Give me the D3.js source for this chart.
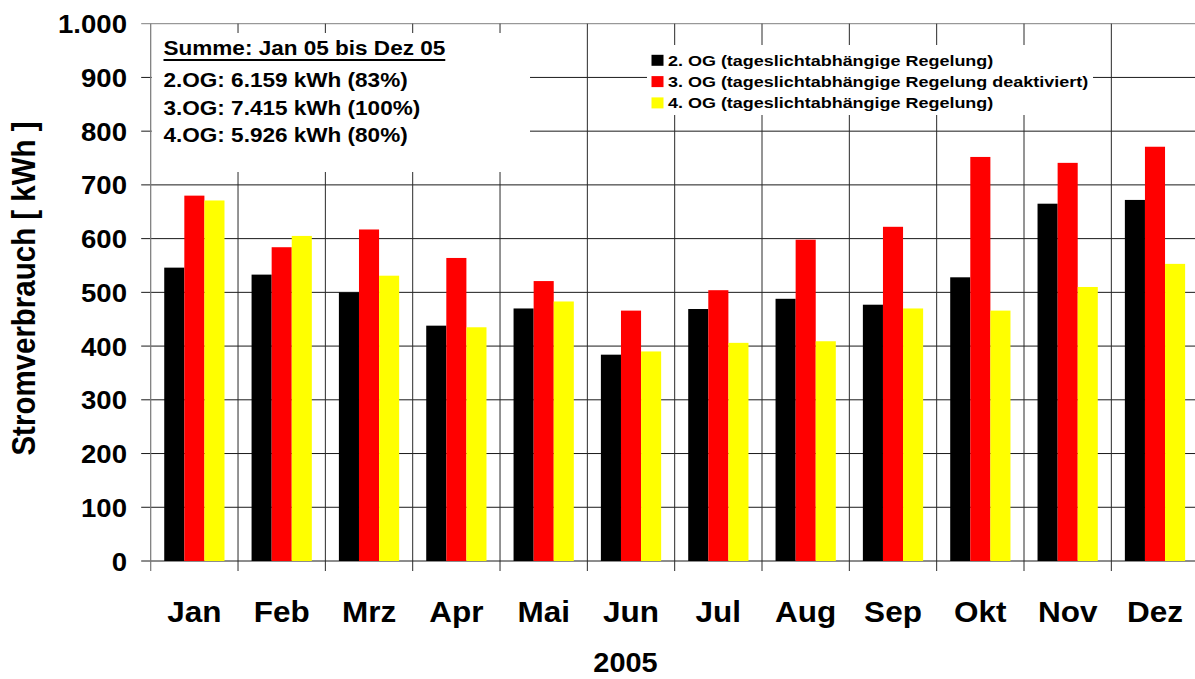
<!DOCTYPE html>
<html>
<head>
<meta charset="utf-8">
<script src="https://cdn.jsdelivr.net/npm/d3@7"></script>
<style>
  body { margin: 0; background: #fff; }
  text { font-family: "Liberation Sans", Arial, sans-serif; font-weight: bold; fill: #000; }
</style>
</head>
<body>
<div class="chart"></div>
<script>
const months = ["Jan", "Feb", "Mrz", "Apr", "Mai", "Jun", "Jul", "Aug", "Sep", "Okt", "Nov", "Dez"];
const og2 = [546, 533, 500, 438, 470, 384, 469, 488, 477, 528, 665, 672];
const og3 = [680, 584, 617, 564, 521, 466, 504, 598, 622, 752, 741, 771];
const og4 = [671, 605, 531, 435, 483, 390, 406, 409, 470, 466, 510, 553];
const seriesNames = [
    "2. OG (tageslichtabhängige Regelung)",
    "3. OG (tageslichtabhängige Regelung deaktiviert)",
    "4. OG (tageslichtabhängige Regelung)"
];
const seriesColors = ["#000000", "#ff0000", "#ffff00"];
const summaryTitle = "Summe: Jan 05 bis Dez 05";
const summaryLines = ["2.OG: 6.159 kWh (83%)", "3.OG: 7.415 kWh (100%)", "4.OG: 5.926 kWh (80%)"];
const yTicks = [0, 100, 200, 300, 400, 500, 600, 700, 800, 900, 1000];

function drawChart() {
    const width = 1195, height = 679;
    const left = 150.7, bottom = 561, top = 23.7;
    const step = 87.33;

    const svg = d3.select(".chart").append("svg")
        .attr("width", width)
        .attr("height", height);

    const x = d3.scaleBand()
        .domain(months)
        .range([left, left + step * months.length])
        .paddingInner(0.31)
        .paddingOuter(0.155);
    const xSub = d3.scaleBand()
        .domain([0, 1, 2])
        .range([0, x.bandwidth()]);
    const y = d3.scaleLinear().domain([0, 1000]).range([bottom, top]);

    const de = d3.formatLocale({ decimal: ",", thousands: ".", grouping: [3], currency: ["", " €"] });
    const fmt = de.format(",d");

    // stretched text helper (the original is widened horizontally)
    function label(parent, px, py, str, size, sx, anchor) {
        const g = parent.append("g").attr("transform", `translate(${px},${py}) scale(${sx},1)`);
        return g.append("text")
            .attr("text-anchor", anchor || "start")
            .style("font-size", size + "px")
            .text(str);
    }

    // horizontal gridlines + ticks
    svg.append("g").selectAll("line")
        .data(yTicks)
        .enter().append("line")
        .attr("x1", left - 9.5).attr("x2", width)
        .attr("y1", d => y(d)).attr("y2", d => y(d))
        .attr("stroke", d => d === 1000 ? "#808080" : "#1a1a1a")
        .attr("stroke-width", 1);

    // vertical gridlines at category boundaries
    const bounds = months.map(m => x(m) - x.step() * 0.155);
    svg.append("g").selectAll("line")
        .data(bounds.slice(1))
        .enter().append("line")
        .attr("x1", d => d).attr("x2", d => d)
        .attr("y1", top).attr("y2", bottom + 10)
        .attr("stroke", "#2a2a2a")
        .attr("stroke-width", 1);

    // white boxes behind the summary text and legend
    svg.append("rect").attr("x", left + 1).attr("y", 33).attr("width", 530 - left - 1).attr("height", 139).attr("fill", "#fff");
    svg.append("rect").attr("x", 647).attr("y", 45).attr("width", 446).attr("height", 70).attr("fill", "#fff");

    // y axis line
    svg.append("line")
        .attr("x1", left).attr("x2", left)
        .attr("y1", top).attr("y2", bottom + 10)
        .attr("stroke", "#777").attr("stroke-width", 1.2);

    // bars
    const series = [og2, og3, og4];
    const groups = svg.append("g").selectAll("g")
        .data(months)
        .enter().append("g")
        .attr("transform", d => `translate(${x(d)},0)`);
    groups.selectAll("rect")
        .data((m, i) => series.map((s, k) => ({ k: k, v: s[i] })))
        .enter().append("rect")
        .attr("x", d => xSub(d.k))
        .attr("width", xSub.bandwidth())
        .attr("y", d => y(d.v))
        .attr("height", d => bottom - y(d.v))
        .attr("fill", d => seriesColors[d.k]);

    // y tick labels
    yTicks.forEach(t => label(svg, 127, y(t) + 9.5, fmt(t), 26, 1.06, "end"));

    // x labels
    months.forEach(m => label(svg, x(m) + x.bandwidth() / 2, 621.5, m, 30, 1.05, "middle"));

    // axis titles
    label(svg, 625.5, 672, "2005", 27, 1.07, "middle");
    svg.append("g")
        .attr("transform", "translate(35,288.5) scale(1.15,1) rotate(-90)")
        .append("text")
        .attr("text-anchor", "middle")
        .style("font-size", "29.5px")
        .text("Stromverbrauch [ kWh ]");

    // summary box
    const t0 = label(svg, 163.5, 55, summaryTitle, 20.5, 1.1);
    const w0 = t0.node().getComputedTextLength() * 1.1;
    svg.append("line")
        .attr("x1", 163.5).attr("x2", 163.5 + w0)
        .attr("y1", 60).attr("y2", 60)
        .attr("stroke", "#000").attr("stroke-width", 2);
    summaryLines.forEach((s, i) => label(svg, 163.5, 87.3 + i * 27.2, s, 20.5, 1.1));

    // legend
    const legend = svg.append("g");
    seriesNames.forEach((name, i) => {
        const by = 65.8 + i * 21.3;
        legend.append("rect")
            .attr("x", 651.5).attr("y", by - 11)
            .attr("width", 12).attr("height", 11)
            .attr("fill", seriesColors[i]);
        label(legend, 668, by, name, 15.5, 1.16);
    });
}

drawChart();
</script>
</body>
</html>
